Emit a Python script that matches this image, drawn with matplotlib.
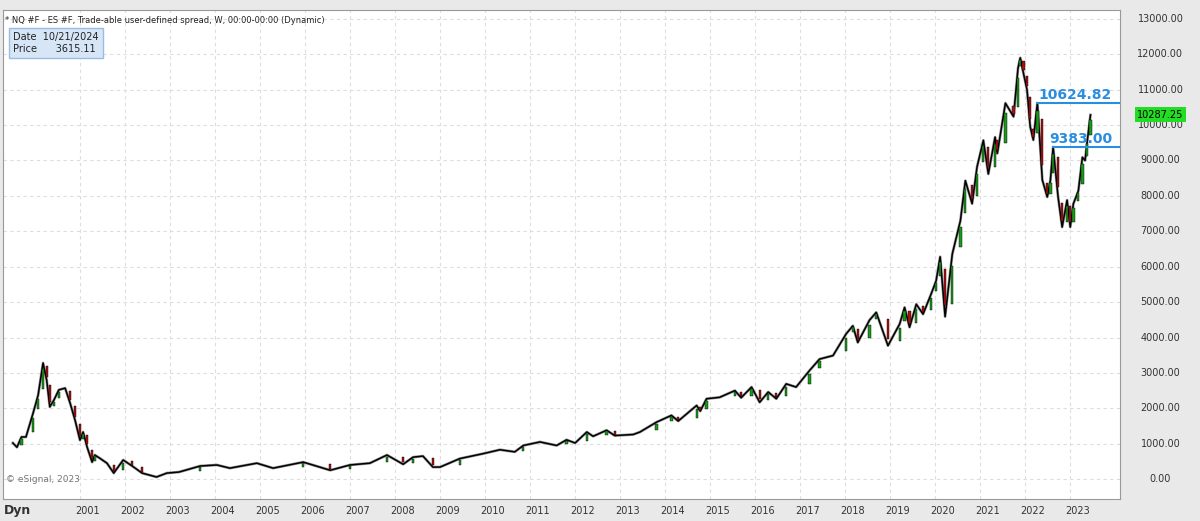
import matplotlib
matplotlib.use("Agg")
import matplotlib.pyplot as plt
from matplotlib.transforms import blended_transform_factory as btf
import numpy as np

years = [1999.51,1999.6,1999.7,1999.8,1999.96,2000.07,2000.18,2000.26,2000.33,2000.42,2000.53,2000.67,2000.78,2000.89,2001.0,2001.07,2001.16,2001.27,2001.33,2001.44,2001.6,2001.75,2001.96,2002.16,2002.38,2002.7,2002.93,2003.2,2003.67,2004.04,2004.33,2004.93,2005.29,2005.96,2006.56,2007.0,2007.44,2007.82,2008.18,2008.4,2008.62,2008.84,
2009.0,2009.44,2009.96,2010.33,2010.66,2010.85,2011.22,2011.59,2011.81,2012.0,2012.26,2012.4,2012.7,2012.88,2013.29,2013.44,2013.81,2014.14,2014.29,2014.7,2014.78,2014.92,2015.21,2015.55,2015.69,2015.92,2016.1,2016.29,2016.47,2016.69,2016.91,2017.21,2017.43,2017.73,2018.02,2018.17,2018.28,2018.54,2018.69,2018.95,2019.21,2019.32,2019.43,2019.58,2019.73,2019.91,2020.02,
2020.11,2020.22,2020.38,2020.56,2020.67,2020.82,2020.93,2021.07,2021.18,2021.33,2021.38,2021.56,2021.74,2021.84,2021.89,2021.96,2022.04,2022.11,2022.18,2022.27,2022.38,2022.49,2022.56,2022.62,2022.73,2022.82,2022.93,2023.0,2023.07,2023.18,2023.27,2023.33,2023.38,2023.45]
closes = [1020,900,1190,1190,1870,2370,3280,2800,2040,2230,2520,2570,2150,1670,1100,1330,900,480,680,590,450,170,540,370,170,60,170,200,370,400,310,450,310,480,250,400,450,680,420,620,650,340,
340,580,720,830,770,950,1050,950,1110,1020,1330,1210,1380,1230,1260,1330,1610,1800,1640,2080,1920,2270,2310,2500,2300,2600,2170,2460,2270,2690,2600,3070,3390,3490,4100,4330,3860,4490,4710,3770,4380,4850,4290,4940,4660,5230,5600,
6280,4590,6360,7300,8430,7780,8820,9570,8620,9660,9200,10620,10240,11610,11900,11470,11000,9960,9580,10620,8450,7970,8450,9380,7970,7120,7880,7120,7780,8140,9090,9000,9570,10287.25]
year_labels = list(range(2001, 2024))
y_ticks = list(range(0, 14000, 1000))
levels = [10624.82, 9383.00]
level_start = [2022.27, 2022.62]
last_price = 10287.25

fig = plt.figure(figsize=(12, 5.21), dpi=100)
fig.patch.set_facecolor("#e9e9e9")
ax = fig.add_axes([0.0025, 0.042, 0.931, 0.939])
ax.set_facecolor("white")
ax.set_xlim(1999.29, 2024.11)
ax.set_ylim(-565, 13254)
for y in y_ticks:
    ax.axhline(y, color="#dddddd", lw=0.8, ls=(0, (3, 3)), zorder=0)
for yr in year_labels:
    ax.axvline(yr, color="#dddddd", lw=0.8, ls=(0, (3, 3)), zorder=0)
ax.plot(years, closes, color="#999999", lw=2.0, zorder=1)
ax.plot(years, closes, color="black", lw=1.1, zorder=2)
for i in range(1, len(years)):
    o, c = closes[i-1], closes[i]
    if abs(c - o) < 150:
        continue
    col = "#1a9a1a" if c >= o else "#b01010"
    w = 0.05
    ax.bar(years[i]-w/2, abs(c-o)*0.6, bottom=min(o, c)+abs(c-o)*0.2, width=w, color=col,
           edgecolor="black", lw=0.3, zorder=3, align="edge")
ax.set_xticks([]); ax.set_yticks([])
for s in ax.spines.values():
    s.set_color("#999999")
for lv, st in zip(levels, level_start):
    ax.plot([st, 2024.11], [lv, lv], color="#2a8de0", lw=1.5, zorder=4)
    ax.text(2023.93, lv + 40, f"{lv:.2f}", color="#2a8de0", fontsize=10, fontweight="bold",
            ha="right", va="bottom", zorder=5)
for y in y_ticks:
    ax.text(1.036, y, f"{y:.2f}", transform=btf(ax.transAxes, ax.transData), fontsize=7,
            color="#333333", ha="center", va="center", clip_on=False)
ax.text(1.036, last_price, f"{last_price:.2f}", transform=btf(ax.transAxes, ax.transData), fontsize=7,
        color="black", ha="center", va="center", clip_on=False,
        bbox=dict(boxstyle="square,pad=0.25", fc="#22dd22", ec="none"))
for yr in year_labels:
    ax.text(yr + 0.16, -0.025, str(yr), transform=btf(ax.transData, ax.transAxes), fontsize=7,
            color="#333333", ha="center", va="center", clip_on=False)
ax.text(0.002, 0.987, "* NQ #F - ES #F, Trade-able user-defined spread, W, 00:00-00:00 (Dynamic)",
        transform=ax.transAxes, fontsize=6, color="#222222", va="top")
ax.text(0.009, 0.955, "Date  10/21/2024\nPrice      3615.11", transform=ax.transAxes, fontsize=7,
        color="#222222", va="top", linespacing=1.3,
        bbox=dict(boxstyle="square,pad=0.4", fc="#d6e6f7", ec="#9bbbe0"))
ax.text(0.003, 0.035, "© eSignal, 2023", transform=ax.transAxes, fontsize=6.5, color="#777777")
fig.text(0.003, 0.02, "Dyn", fontsize=9, fontweight="bold", color="#333333", va="center")
fig.savefig("out.png", dpi=100, facecolor=fig.get_facecolor())
